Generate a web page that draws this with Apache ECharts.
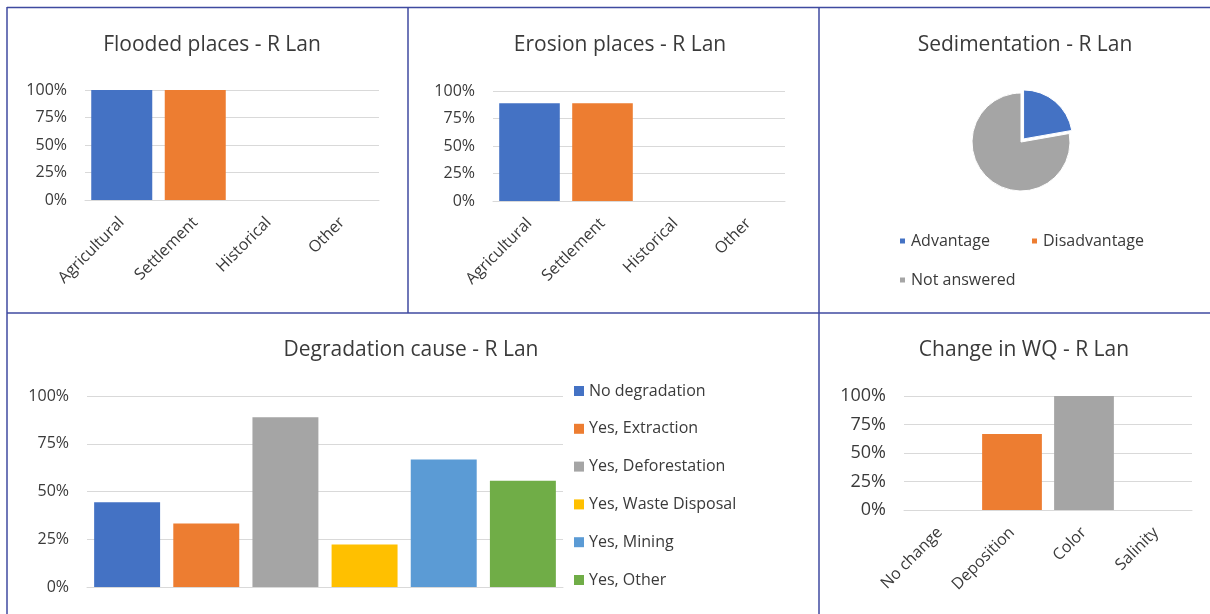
<!DOCTYPE html>
<html>
<head>
<meta charset="utf-8">
<script src="https://cdn.jsdelivr.net/npm/echarts@6/dist/echarts.min.js"></script>
<style>
  html, body { margin: 0; padding: 0; background: #fff; }
  #chart { width: 1210px; height: 614px; }
</style>
</head>
<body>
<div id="chart"></div>
<script>
// data
const placeCats = ["Agricultural", "Settlement", "Historical", "Other"];
const floodedVals = [1, 1, 0, 0];
const erosionVals = [0.889, 0.889, 0, 0];
const sedNames = ["Advantage", "Disadvantage", "Not answered"];
const sedVals = [2, 0, 7];
const degNames = ["No degradation", "Yes, Extraction", "Yes, Deforestation", "Yes, Waste Disposal", "Yes, Mining", "Yes, Other"];
const degVals = [0.444, 0.333, 0.889, 0.222, 0.667, 0.556];
const wqCats = ["No change", "Deposition", "Color", "Salinity"];
const wqVals = [0, 0.667, 1, 0];
const pctTicks = ["0%", "25%", "50%", "75%", "100%"];

const palette = ["#4472C4", "#ED7D31", "#A5A5A5", "#FFC000", "#5B9BD5", "#70AD47"];
const txt = "#3a3a3a";
const font = "Open Sans";
const gridColor = "#D9D9D9";
const frame = "#3F4AA0";

const chart = echarts.init(document.getElementById("chart"));

function titleAt(text, x, y) {
  return {
    text: text, left: x, top: y, textAlign: "center",
    textStyle: { color: txt, fontFamily: font, fontSize: 21, fontWeight: "normal" }
  };
}

function yAxisFor(gi, size) {
  return {
    gridIndex: gi, type: "value", min: 0, max: 1, interval: 0.25,
    axisLabel: {
      color: txt, fontFamily: font, fontSize: size, margin: 18,
      formatter: function (v) { return pctTicks[Math.round(v * 4)]; }
    },
    axisLine: { show: false }, axisTick: { show: false },
    splitLine: { lineStyle: { color: gridColor, width: 1 } }
  };
}

function xAxisFor(gi, cats, showLabel) {
  return {
    gridIndex: gi, type: "category", data: cats,
    axisLine: { lineStyle: { color: gridColor, width: 1 } },
    axisTick: { show: false },
    axisLabel: { show: showLabel, rotate: 45, interval: 0, margin: 20, color: txt, fontFamily: font, fontSize: 16 }
  };
}

function catBars(gi, vals) {
  return {
    type: "bar", xAxisIndex: gi, yAxisIndex: gi, barCategoryGap: "17%",
    data: vals.map(function (v, i) { return { value: v, itemStyle: { color: palette[i] } }; }),
    silent: true
  };
}

const series = [
  catBars(0, floodedVals),
  catBars(1, erosionVals),
  catBars(3, wqVals),
  {
    type: "pie", center: [1021, 142], radius: 49, startAngle: 90,
    label: { show: false }, labelLine: { show: false },
    selectedMode: "single", selectedOffset: 4,
    itemStyle: { borderColor: "#fff", borderWidth: 1 },
    data: sedNames.map(function (n, i) {
      return { name: n, value: sedVals[i], selected: i === 0, itemStyle: { color: palette[i] } };
    })
  }
];
degNames.forEach(function (n, i) {
  series.push({
    type: "bar", name: n, xAxisIndex: 2, yAxisIndex: 2,
    barGap: "20%", barCategoryGap: "3%",
    itemStyle: { color: palette[i] },
    data: [degVals[i]]
  });
});

function legendAt(names, x, y, extra) {
  return Object.assign({
    data: names, left: x, top: y, icon: "rect", selectedMode: false,
    itemWidth: 7, itemHeight: 7, itemGap: 18,
    textStyle: { color: txt, fontFamily: font, fontSize: 16, lineHeight: 20 }
  }, extra || {});
}

const option = {
  animation: false,
  title: [
    titleAt("Flooded places - R Lan", 207, 30),
    titleAt("Erosion places - R Lan", 615, 30),
    titleAt("Sedimentation - R Lan", 1020, 30),
    titleAt("Degradation cause - R Lan", 406, 335),
    titleAt("Change in WQ - R Lan", 1019, 335)
  ],
  legend: [
    legendAt([sedNames[0]], 893, 226),
    legendAt([sedNames[1]], 1025, 226),
    legendAt([sedNames[2]], 893, 265),
    legendAt(degNames, 569, 376, { orient: "vertical", itemWidth: 10, itemHeight: 10, itemGap: 17.8 })
  ],
  grid: [
    { left: 85, top: 90, width: 294, height: 110 },
    { left: 493, top: 91, width: 292, height: 110 },
    { left: 87, top: 396, width: 476, height: 191 },
    { left: 904, top: 396, width: 288, height: 114 }
  ],
  xAxis: [
    xAxisFor(0, placeCats, true),
    xAxisFor(1, placeCats, true),
    xAxisFor(2, ["Degradation cause"], false),
    xAxisFor(3, wqCats, true)
  ],
  yAxis: [yAxisFor(0, 16), yAxisFor(1, 16), yAxisFor(2, 16), yAxisFor(3, 18)],
  series: series,
  graphic: [
    { type: "line", silent: true, shape: { x1: 7, y1: 7.5, x2: 1210, y2: 7.5 }, style: { stroke: frame, lineWidth: 1.5 } },
    { type: "line", silent: true, shape: { x1: 7, y1: 7, x2: 7, y2: 614 }, style: { stroke: frame, lineWidth: 1.5 } },
    { type: "line", silent: true, shape: { x1: 408, y1: 7, x2: 408, y2: 313 }, style: { stroke: frame, lineWidth: 1.5 } },
    { type: "line", silent: true, shape: { x1: 819, y1: 7, x2: 819, y2: 614 }, style: { stroke: frame, lineWidth: 1.5 } },
    { type: "line", silent: true, shape: { x1: 7, y1: 313, x2: 1210, y2: 313 }, style: { stroke: frame, lineWidth: 1.5 } }
  ]
};
chart.setOption(option);
</script>
</body>
</html>
